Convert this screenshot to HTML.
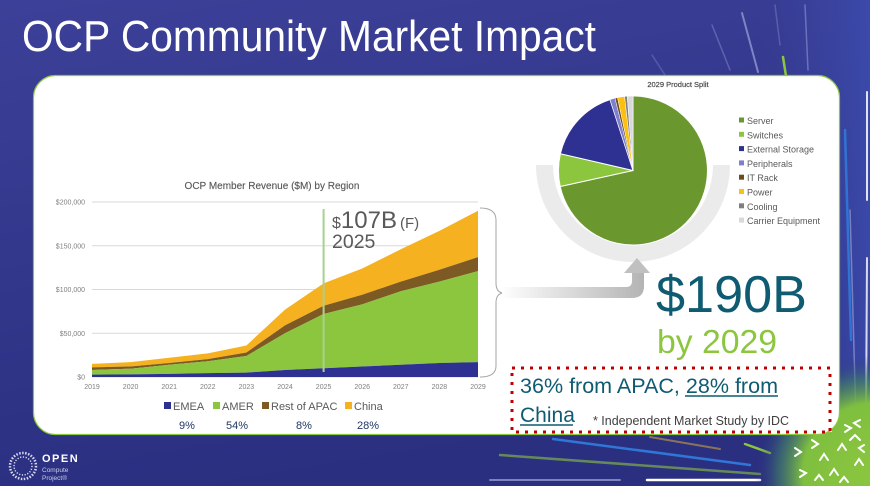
<!DOCTYPE html>
<html><head><meta charset="utf-8"><style>
html,body{margin:0;padding:0;background:#323789;}
svg{display:block;font-family:"Liberation Sans",sans-serif;}
</style></head><body>
<svg width="870" height="486" viewBox="0 0 870 486" xmlns="http://www.w3.org/2000/svg">
<defs>
<linearGradient id="bg" x1="0" y1="0" x2="0.3" y2="1">
<stop offset="0" stop-color="#3c4098"/><stop offset="1" stop-color="#2b2f80"/>
</linearGradient>
<linearGradient id="bgr" x1="0" y1="0" x2="1" y2="0">
<stop offset="0" stop-color="#3a46a3" stop-opacity="0"/><stop offset="1" stop-color="#3d4db0" stop-opacity="0.8"/>
</linearGradient>
<radialGradient id="burst" cx="875" cy="475" r="120" gradientUnits="userSpaceOnUse">
<stop offset="0" stop-color="#8cc63f"/><stop offset="0.6" stop-color="#7fbf3f"/><stop offset="0.82" stop-color="#3d7a68" stop-opacity="0.6"/><stop offset="1" stop-color="#2b2f80" stop-opacity="0"/>
</radialGradient>
<linearGradient id="arr" x1="500" y1="0" x2="645" y2="0" gradientUnits="userSpaceOnUse">
<stop offset="0" stop-color="#ffffff"/><stop offset="1" stop-color="#b3b3b3"/>
</linearGradient>
</defs>
<rect width="870" height="486" fill="url(#bg)"/>
<rect x="760" y="0" width="110" height="486" fill="url(#bgr)"/>
<g stroke-linecap="round" fill="none">
<line x1="652" y1="55" x2="665" y2="75" stroke="#6b70b8" stroke-width="1.5" opacity="0.6"/>
<line x1="712" y1="25" x2="730" y2="70" stroke="#7a7fc0" stroke-width="1.5" opacity="0.6"/>
<line x1="742" y1="13" x2="758" y2="72" stroke="#a0a4dc" stroke-width="2" opacity="0.7"/>
<line x1="775" y1="5" x2="780" y2="45" stroke="#7a7fc0" stroke-width="1.5" opacity="0.5"/>
<line x1="805" y1="5" x2="808" y2="70" stroke="#8f94d0" stroke-width="1.5" opacity="0.6"/>
<line x1="783" y1="57" x2="786" y2="76" stroke="#8cc63f" stroke-width="2.5"/>
<line x1="867" y1="92" x2="867" y2="200" stroke="#ffffff" stroke-width="2" opacity="0.85"/>
<line x1="845" y1="130" x2="851" y2="340" stroke="#2f7fe0" stroke-width="2.5" opacity="0.8"/>
<line x1="867" y1="258" x2="866" y2="425" stroke="#ffffff" stroke-width="2" opacity="0.8"/>
<line x1="850" y1="210" x2="856" y2="420" stroke="#b8bde8" stroke-width="1.5" opacity="0.5"/>
<line x1="553" y1="439" x2="750" y2="465" stroke="#2f7fe0" stroke-width="2.5" opacity="0.9"/>
<line x1="650" y1="437" x2="720" y2="449" stroke="#c9a23f" stroke-width="2" opacity="0.6"/>
<line x1="500" y1="455" x2="760" y2="474" stroke="#8cc63f" stroke-width="2.5" opacity="0.6"/>
<line x1="490" y1="480" x2="620" y2="480" stroke="#b8bde8" stroke-width="2" opacity="0.6"/>
<line x1="647" y1="480" x2="760" y2="480" stroke="#ffffff" stroke-width="2.5"/>
<line x1="745" y1="444" x2="770" y2="453" stroke="#8cc63f" stroke-width="2.5"/>
</g>
<rect x="700" y="340" width="170" height="146" fill="url(#burst)"/>
<g stroke="#ffffff" stroke-width="2" fill="none" stroke-linecap="round">
<path d="M795,448 l6,4 l-6,4"/><path d="M812,440 l6,4 l-6,4"/><path d="M800,470 l6,3 l-6,4"/>
<path d="M820,460 l4,-6 l4,6"/><path d="M838,450 l4,-6 l4,6"/><path d="M830,475 l4,-6 l4,6"/>
<path d="M850,440 l5,-5 l5,5"/><path d="M855,465 l4,-6 l4,6"/><path d="M845,425 l6,3 l-6,4"/>
<path d="M860,420 l-6,3 l6,4"/><path d="M815,480 l4,-5 l4,5"/><path d="M840,482 l4,-5 l4,5"/>
<path d="M864,445 l-5,3 l5,4"/><path d="M825,428 l6,3"/>
</g>

<text x="22" y="51" font-size="44" fill="#ffffff" textLength="574" lengthAdjust="spacingAndGlyphs">OCP Community Market Impact</text>

<rect x="33.5" y="75.5" width="806" height="359" rx="22" ry="22" fill="#ffffff" stroke="#8cc63f" stroke-width="1.2"/>

<text x="272" y="189" font-size="10" fill="#595959" text-anchor="middle" stroke="#595959" stroke-width="0.15">OCP Member Revenue ($M) by Region</text>
<g stroke="#d9d9d9" stroke-width="1">
<line x1="92" y1="202" x2="478" y2="202"/>
<line x1="92" y1="245.75" x2="478" y2="245.75"/>
<line x1="92" y1="289.5" x2="478" y2="289.5"/>
<line x1="92" y1="333.25" x2="478" y2="333.25"/>
<line x1="92" y1="377" x2="478" y2="377"/>
</g>
<g font-size="7" fill="#7f7f7f" text-anchor="end">
<text x="85" y="204.5">$200,000</text>
<text x="85" y="248.3">$150,000</text>
<text x="85" y="292">$100,000</text>
<text x="85" y="335.8">$50,000</text>
<text x="85" y="379.5">$0</text>
</g>
<g font-size="7" fill="#7f7f7f" text-anchor="middle">
<text x="92" y="389">2019</text><text x="130.6" y="389">2020</text><text x="169.2" y="389">2021</text>
<text x="207.8" y="389">2022</text><text x="246.4" y="389">2023</text><text x="285" y="389">2024</text>
<text x="323.6" y="389">2025</text><text x="362.2" y="389">2026</text><text x="400.8" y="389">2027</text>
<text x="439.4" y="389">2028</text><text x="478" y="389">2029</text>
</g>
<polygon fill="#f5b120" points="92,363.9 130.6,362.1 169.2,357.8 207.8,353.4 246.4,345.5 285,309.6 323.6,283.4 362.2,268.5 400.8,249.3 439.4,230.9 478,210.8 478,257.1 439.4,269.7 400.8,281.6 362.2,294.8 323.6,305.7 285,325.4 246.4,352.5 207.8,359.1 169.2,363 130.6,366.5 92,367.4"/>
<polygon fill="#7d5a24" points="92,367.4 130.6,366.5 169.2,363 207.8,359.1 246.4,352.5 285,325.4 323.6,305.7 362.2,294.8 400.8,281.6 439.4,269.7 478,257.1 478,271.1 439.4,281.6 400.8,291.3 362.2,304.4 323.6,314 285,333.3 246.4,356 207.8,361.3 169.2,364.8 130.6,368.7 92,370"/>
<polygon fill="#8cc63f" points="92,370 130.6,368.7 169.2,364.8 207.8,361.3 246.4,356 285,333.3 323.6,314 362.2,304.4 400.8,291.3 439.4,281.6 478,271.1 478,362.1 439.4,363 400.8,364.8 362.2,366.5 323.6,368.3 285,370 246.4,372.6 207.8,373.1 169.2,373.9 130.6,374.4 92,374.6"/>
<polygon fill="#2e3192" points="92,374.6 130.6,374.4 169.2,373.9 207.8,373.1 246.4,372.6 285,370 323.6,368.3 362.2,366.5 400.8,364.8 439.4,363 478,362.1 478,377 92,377"/>
<line x1="323.6" y1="209" x2="323.6" y2="372" stroke="#a9d18e" stroke-width="2"/>
<text x="332" y="228" fill="#595959"><tspan font-size="16">$</tspan><tspan font-size="24">107B</tspan><tspan font-size="15" dx="3">(F)</tspan></text>
<text x="332" y="248" font-size="19.5" fill="#595959">2025</text>

<g font-size="11" fill="#595959">
<rect x="164" y="402" width="7" height="7" fill="#2e3192"/><text x="173" y="410">EMEA</text>
<rect x="213" y="402" width="7" height="7" fill="#8cc63f"/><text x="222" y="410">AMER</text>
<rect x="262" y="402" width="7" height="7" fill="#7d5a24"/><text x="271" y="410">Rest of APAC</text>
<rect x="345" y="402" width="7" height="7" fill="#f5b120"/><text x="354" y="410">China</text>
</g>
<g font-size="11" fill="#1f3864" text-anchor="middle">
<text x="187" y="429">9%</text><text x="237" y="429">54%</text><text x="304" y="429">8%</text><text x="368" y="429">28%</text>
</g>

<path d="M480,208 Q496,208 496,220 L496,283 Q496,293 504,293 Q496,293 496,303 L496,366 Q496,377 480,377" fill="none" stroke="#a6a6a6" stroke-width="1"/>

<path d="M536,165 A97,97 0 0 0 730,165 L713,165 A80,80 0 0 1 553,165 Z" fill="#ebebeb"/>

<path d="M502,287 L626,287 Q632,287 632,281 L632,272 L644,272 L644,286 Q644,298 632,298 L502,298 Z" fill="url(#arr)"/>
<polygon points="624,273 650,273 637,258" fill="#c0c0c0"/>

<g stroke="#ffffff" stroke-width="1">
<path d="M633,170.5 L633,96 A74.5,74.5 0 1 1 560.2,186.5 Z" fill="#6a972e"/>
<path d="M633,170.5 L560.2,186.5 A74.5,74.5 0 0 1 560.4,153.7 Z" fill="#8cc63f"/>
<path d="M633,170.5 L560.4,153.7 A74.5,74.5 0 0 1 610,99.6 Z" fill="#2e3192"/>
<path d="M633,170.5 L610,99.6 A74.5,74.5 0 0 1 615,98.2 Z" fill="#7f7fd0" stroke-width="0.5"/>
<path d="M633,170.5 L615,98.2 A74.5,74.5 0 0 1 617.5,97.6 Z" fill="#6b4c1e" stroke-width="0.5"/>
<path d="M633,170.5 L617.5,97.6 A74.5,74.5 0 0 1 624.6,96.5 Z" fill="#fdc010" stroke-width="0.5"/>
<path d="M633,170.5 L624.6,96.5 A74.5,74.5 0 0 1 627.2,96.2 Z" fill="#7f7f7f" stroke-width="0.5"/>
<path d="M633,170.5 L627.2,96.2 A74.5,74.5 0 0 1 633,96 Z" fill="#d9d9d9" stroke-width="0.5"/>
</g>
<text x="678" y="87" font-size="7.5" fill="#404040" text-anchor="middle" stroke="#404040" stroke-width="0.15">2029 Product Split</text>
<g font-size="9" fill="#595959">
<rect x="739" y="117.5" width="5" height="5" fill="#6a972e"/><text x="747" y="124">Server</text>
<rect x="739" y="131.8" width="5" height="5" fill="#8cc63f"/><text x="747" y="138.3">Switches</text>
<rect x="739" y="146.1" width="5" height="5" fill="#2e3192"/><text x="747" y="152.6">External Storage</text>
<rect x="739" y="160.4" width="5" height="5" fill="#7f7fd0"/><text x="747" y="166.9">Peripherals</text>
<rect x="739" y="174.7" width="5" height="5" fill="#6b4c1e"/><text x="747" y="181.2">IT Rack</text>
<rect x="739" y="189" width="5" height="5" fill="#fdc010"/><text x="747" y="195.5">Power</text>
<rect x="739" y="203.3" width="5" height="5" fill="#7f7f7f"/><text x="747" y="209.8">Cooling</text>
<rect x="739" y="217.6" width="5" height="5" fill="#d9d9d9"/><text x="747" y="224.1">Carrier Equipment</text>
</g>

<text x="656" y="312" font-size="52" fill="#0f5b71" textLength="151" lengthAdjust="spacingAndGlyphs">$190B</text>
<text x="657" y="353" font-size="33" fill="#8cc63f" textLength="120" lengthAdjust="spacingAndGlyphs">by 2029</text>

<rect x="512" y="368" width="318" height="64" fill="none" stroke="#c00000" stroke-width="3" stroke-dasharray="3,6"/>
<text x="520" y="393" font-size="21" fill="#0f5b71" textLength="258" lengthAdjust="spacingAndGlyphs">36% from APAC, 28% from</text>
<line x1="685" y1="396" x2="778" y2="396" stroke="#0f5b71" stroke-width="1.5"/>
<text x="520" y="422" font-size="21" fill="#0f5b71">China</text>
<line x1="520" y1="425" x2="573" y2="425" stroke="#0f5b71" stroke-width="1.5"/>
<text x="593" y="425" font-size="12.5" fill="#404040" textLength="196" lengthAdjust="spacingAndGlyphs">* Independent Market Study by IDC</text>

<g fill="#d8daf0">
<circle cx="23" cy="466" r="13" fill="none" stroke="#d8daf0" stroke-width="2.5" stroke-dasharray="1.5,1.5"/>
<circle cx="23" cy="466" r="9" fill="none" stroke="#d8daf0" stroke-width="1.5" stroke-dasharray="1.2,1.6"/>
</g>
<text x="42" y="462" font-size="11" font-weight="bold" fill="#ffffff" letter-spacing="1.5">OPEN</text>
<text x="42" y="472" font-size="6.5" fill="#c8cbe8">Compute</text>
<text x="42" y="480" font-size="6.5" fill="#c8cbe8">Project®</text>
</svg>
</body></html>
